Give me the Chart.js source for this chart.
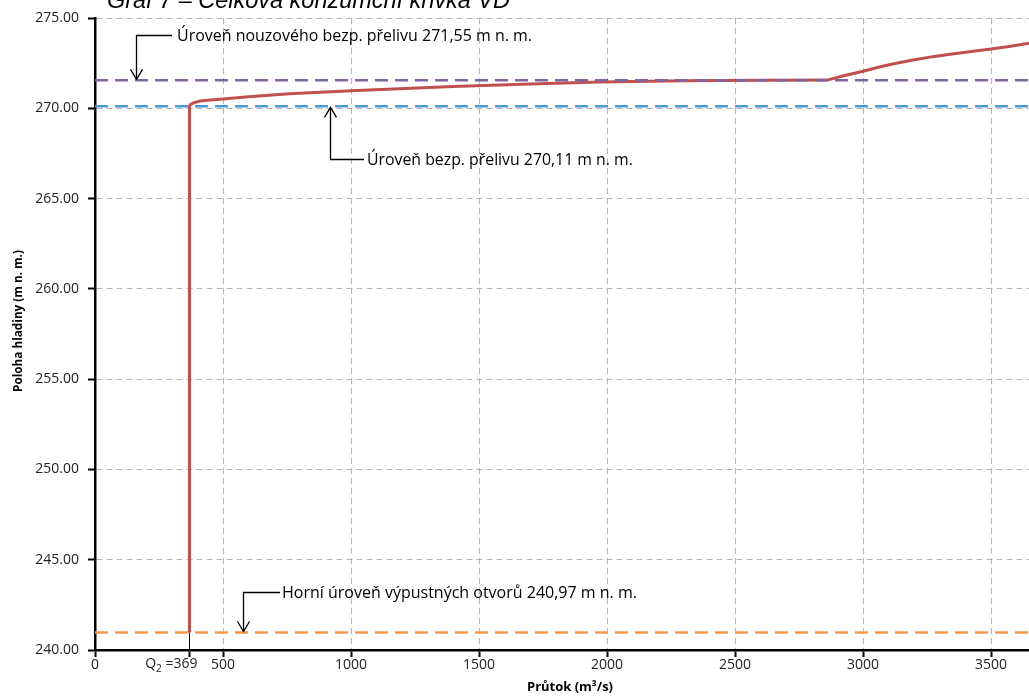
<!DOCTYPE html>
<html>
<head>
<meta charset="utf-8">
<script src="https://cdn.jsdelivr.net/npm/chart.js@4/dist/chart.umd.min.js"></script>
<style>
html,body{margin:0;padding:0;background:#fff;}
#wrap{position:relative;width:1029px;height:697px;}
</style>
</head>
<body>
<div id="wrap"><canvas id="c" width="1029" height="697"></canvas></div>
<script>
// ---- data ----
const flowQ = [369, 369, 372, 385, 410, 450, 500, 600, 760, 1000, 1400, 1700, 1970, 2300, 2600, 2860, 2920, 3000, 3060, 3115, 3190, 3272, 3340, 3400, 3500, 3570, 3648];
const levelH = [240.97, 270.11, 270.2, 270.3, 270.4, 270.46, 270.52, 270.64, 270.8, 270.97, 271.2, 271.34, 271.46, 271.52, 271.55, 271.56, 271.79, 272.05, 272.27, 272.45, 272.66, 272.86, 272.99, 273.1, 273.28, 273.42, 273.6];
const q2Value = 369;
const outletLevel = 240.97;
const spillwayLevel = 270.11;
const emergencyLevel = 271.55;
const xTickValues = [0, 500, 1000, 1500, 2000, 2500, 3000, 3500];
const xMin = 0, xMax = 3648;
const yMin = 240, yMax = 275, yStep = 5;
const titleText = "Graf 7 – Celková konzumční křivka VD";
const yTitle = "Poloha hladiny (m n. m.)";
const xTitle = "Průtok (m³/s)";
const annoTexts = ["Úroveň nouzového bezp. přelivu 271,55 m n. m.", "Úroveň bezp. přelivu 270,11 m n. m.", "Horní úroveň výpustných otvorů 240,97 m n. m."];
const annoLevels = [emergencyLevel, spillwayLevel, outletLevel];
const annoArrowX = [160, 917, 577];
const annoElbowY = [274.06, 267.19, 243.22];

// ---- layout/style config ----
const annoLayout = [
  {dir: 'down', hEnd: 172, textX: 177, textW: 355},
  {dir: 'up', hEnd: 364, textX: 367, textW: 266},
  {dir: 'down', hEnd: 280, textX: 282, textW: 355}
];

const curvePts = flowQ.map((q, i) => ({x: q, y: levelH[i]}));
const hline = (v) => [{x: xMin, y: v}, {x: xMax, y: v}];

function fitFont(ctx, text, w, style, fam) {
  ctx.font = style + ' 100px ' + fam;
  const m = ctx.measureText(text).width;
  return 100 * w / m;
}

const annoPlugin = {
  id: 'anno',
  afterDatasetsDraw(chart) {
    const ctx = chart.ctx;
    const xs = chart.scales.x, ys = chart.scales.y;
    ctx.save();
    ctx.strokeStyle = '#000';
    ctx.fillStyle = '#000';
    ctx.lineWidth = 1.3;
    annoTexts.forEach((t, i) => {
      const L = annoLayout[i];
      const ax = Math.round(xs.getPixelForValue(annoArrowX[i])) + 0.5;
      const tipY = ys.getPixelForValue(annoLevels[i]) + (L.dir === 'down' ? -1 : 1);
      const ey = Math.round(ys.getPixelForValue(annoElbowY[i])) + 0.5;
      ctx.beginPath();
      ctx.moveTo(L.hEnd, ey);
      ctx.lineTo(ax, ey);
      ctx.lineTo(ax, tipY);
      ctx.stroke();
      const s = L.dir === 'down' ? -1 : 1;
      ctx.beginPath();
      ctx.moveTo(ax - 6, tipY + s * 10);
      ctx.lineTo(ax, tipY);
      ctx.lineTo(ax + 6, tipY + s * 10);
      ctx.stroke();
      const fs = fitFont(ctx, t, L.textW, '', '"Open Sans"');
      ctx.font = fs.toFixed(2) + 'px "Open Sans"';
      ctx.textBaseline = 'middle';
      ctx.textAlign = 'left';
      ctx.fillText(t, L.textX, ey + 0.5);
    });
    ctx.restore();
  },
  afterDraw(chart) {
    const ctx = chart.ctx;
    const xs = chart.scales.x;
    ctx.save();
    ctx.fillStyle = '#000';
    // title (partly cut off at the top)
    let fs = fitFont(ctx, titleText, 403, 'italic', '"Liberation Sans"');
    ctx.font = 'italic ' + fs.toFixed(2) + 'px "Liberation Sans"';
    ctx.textAlign = 'left';
    ctx.textBaseline = 'alphabetic';
    ctx.fillText(titleText, 107, 8);
    // Q2 label
    ctx.fillStyle = '#222';
    ctx.textBaseline = 'middle';
    ctx.textAlign = 'left';
    const q2x = xs.getPixelForValue(q2Value);
    ctx.font = '14px "Open Sans"';
    const wQ = ctx.measureText('Q').width;
    const wR = ctx.measureText(' =369').width;
    ctx.font = '10px "Open Sans"';
    const wS = ctx.measureText('2').width;
    const startX = q2x + 8 - (wQ + wS + wR);
    ctx.font = '14px "Open Sans"';
    ctx.fillText('Q', startX, 664);
    ctx.font = '10px "Open Sans"';
    ctx.fillText('2', startX + wQ, 669);
    ctx.font = '14px "Open Sans"';
    ctx.fillText(' =369', startX + wQ + wS, 664);
    // axis titles
    ctx.fillStyle = '#000';
    fs = fitFont(ctx, xTitle, 86, 'bold', '"Open Sans"');
    ctx.font = 'bold ' + fs.toFixed(2) + 'px "Open Sans"';
    ctx.textAlign = 'center';
    ctx.fillText(xTitle, 570, 687);
    fs = fitFont(ctx, yTitle, 142, 'bold', '"Open Sans"');
    ctx.font = 'bold ' + fs.toFixed(2) + 'px "Open Sans"';
    ctx.translate(19, 321);
    ctx.rotate(-Math.PI / 2);
    ctx.fillText(yTitle, 0, 0);
    ctx.restore();
  }
};

const refLine = (label, v, color) => ({
  label, data: hline(v), borderColor: color, borderWidth: 2.5,
  borderDash: [13, 7], pointRadius: 0, order: 0
});

new Chart(document.getElementById('c'), {
  type: 'line',
  data: {
    datasets: [
      refLine('outlet', outletLevel, '#F79646'),
      refLine('spillway', spillwayLevel, '#4A9AD6'),
      refLine('emergency', emergencyLevel, '#8064A2'),
      {label: 'curve', data: curvePts, borderColor: '#C0504D', borderWidth: 3, pointRadius: 0, tension: 0, order: 1},
      {label: 'q2', data: [{x: q2Value, y: yMin}, {x: q2Value, y: outletLevel}], borderColor: '#000', borderWidth: 1, pointRadius: 0, order: 2}
    ]
  },
  options: {
    responsive: false,
    animation: false,
    devicePixelRatio: 1,
    layout: {padding: {top: 18, right: 0, left: 0, bottom: 0}},
    plugins: {legend: {display: false}, tooltip: {enabled: false}, title: {display: false}},
    scales: {
      x: {
        type: 'linear', min: xMin, max: xMax,
        afterFit: (s) => { s.height = 47; },
        afterBuildTicks: (s) => {
          s.ticks = xTickValues.concat([q2Value]).sort((a, b) => a - b).map(v => ({value: v}));
        },
        ticks: {
          callback: (v) => (v === q2Value ? '' : String(v)),
          font: {family: '"Open Sans"', size: 14}, color: '#222', padding: 0, maxRotation: 0, autoSkip: false
        },
        grid: {
          color: (c) => (c.tick && (c.tick.value === q2Value || c.tick.value === 0)) ? 'rgba(0,0,0,0)' : '#b5b5b5',
          lineWidth: 1, drawTicks: true, tickLength: 7, tickColor: '#000', tickWidth: 2, tickBorderDash: []
        },
        border: {display: true, color: '#000', width: 2.5, dash: [6, 4]}
      },
      y: {
        type: 'linear', min: yMin, max: yMax,
        afterFit: (s) => { s.width = 95; },
        ticks: {
          stepSize: yStep,
          callback: (v) => Number(v).toFixed(2),
          font: {family: '"Open Sans"', size: 14}, color: '#222', padding: 9
        },
        grid: {
          color: (c) => (c.tick && c.tick.value === yMin) ? 'rgba(0,0,0,0)' : '#b5b5b5',
          lineWidth: 1, drawTicks: true, tickLength: 7, tickColor: '#000', tickWidth: 2, tickBorderDash: []
        },
        border: {display: true, color: '#000', width: 2.5, dash: [6, 4]}
      }
    }
  },
  plugins: [annoPlugin]
});
</script>
</body>
</html>
